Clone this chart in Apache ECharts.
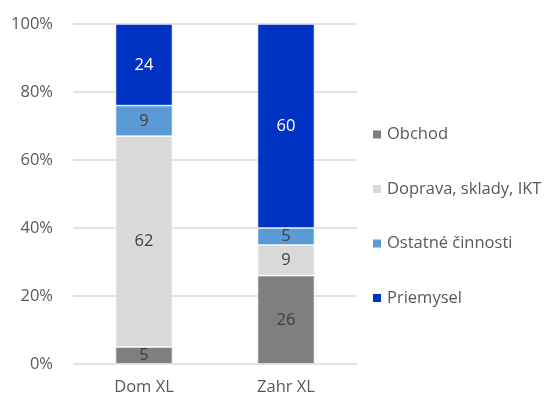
<!DOCTYPE html>
<html><head><meta charset="utf-8">
<script src="https://cdn.jsdelivr.net/npm/echarts@6/dist/echarts.min.js"></script>
<style>html,body{margin:0;padding:0;background:#fff}#c{width:550px;height:400px}</style>
</head><body><div id="c"></div>
<script>
const categories = ["Dom XL", "Zahr XL"];
const seriesNames = ["Obchod", "Doprava, sklady, IKT", "Ostatné činnosti", "Priemysel"];
const obchod = [5, 26];
const doprava = [62, 9];
const ostatne = [9, 5];
const priemysel = [24, 60];
const yTicks = [0, 20, 40, 60, 80, 100];

const colors = ["#7f7f7f", "#d9d9d9", "#5b9bd5", "#0033c4"];
const labelColors = ["#404040", "#404040", "#404040", "#ffffff"];
const values = [obchod, doprava, ostatne, priemysel];
const font = "'Open Sans', 'Noto Sans', sans-serif";

const chart = echarts.init(document.getElementById('c'), null, {renderer: 'canvas'});
chart.setOption({
  animation: false,
  textStyle: {fontFamily: font},
  grid: {left: 73, right: 193, top: 24, bottom: 36},
  legend: {
    orient: 'vertical', left: 371, top: 126, padding: 0,
    itemWidth: 10, itemHeight: 10, itemGap: 37.5,
    icon: 'rect',
    textStyle: {fontFamily: font, fontSize: 16.5, color: '#595959', lineHeight: 17},
    data: seriesNames
  },
  xAxis: {
    type: 'category', data: categories,
    axisLine: {show: false}, axisTick: {show: false},
    axisLabel: {fontFamily: font, fontSize: 16.5, color: '#595959', margin: 15}
  },
  yAxis: {
    type: 'value', min: yTicks[0], max: yTicks[yTicks.length - 1], interval: 20,
    axisLabel: {fontFamily: font, fontSize: 16.5, color: '#595959', margin: 20, formatter: v => v + '%'},
    splitLine: {lineStyle: {color: '#d9d9d9', width: 1.5}},
    axisLine: {show: false}, axisTick: {show: false}
  },
  series: seriesNames.map((n, i) => ({
    name: n, type: 'bar', stack: 'a', barWidth: 57,
    data: values[i],
    itemStyle: {color: colors[i], borderColor: '#ffffff', borderWidth: 0.7},
    label: {show: true, position: 'inside', fontFamily: font, fontSize: 16.5, color: labelColors[i]}
  }))
});
</script></body></html>
